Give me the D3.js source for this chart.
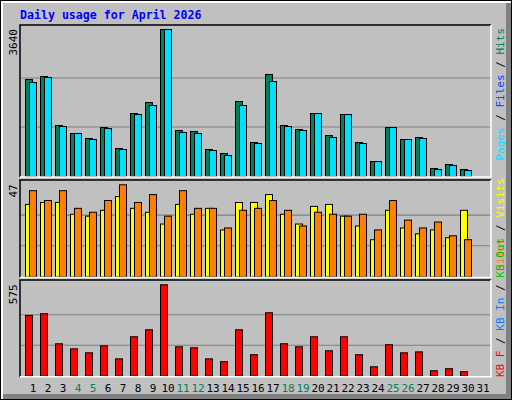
<!DOCTYPE html>
<html><head><meta charset="utf-8">
<script src="https://cdn.jsdelivr.net/npm/d3@7"></script>
<style>body{margin:0;background:#fff}</style>
</head><body>
<script>
// daily values
var days = d3.range(1, 32);
var weekend = [4, 5, 11, 12, 18, 19, 25, 26];
var hits = [2402,2476,1263,1065,941,1213,693,1560,1832,3640,1139,1114,669,570,1857,842,2526,1263,1164,1560,1015,1535,842,371,1213,916,966,198,297,173];
var files = [2328,2451,1238,1065,916,1188,669,1535,1758,3640,1089,1065,644,520,1758,817,2352,1238,1139,1560,966,1535,817,371,1213,916,941,173,272,149];
var visits = [37,38,38,32,31,34,41,35,33,27,37,32,35,24,38,38,42,32,27,36,37,31,26,19,34,25,22,24,20,34];
var sites = [44,39,44,35,33,39,47,38,42,31,44,35,35,25,34,35,39,34,26,33,32,31,32,24,39,29,25,28,21,19];
var kbytes = [382,393,204,172,147,191,109,248,292,575,185,179,109,91,292,135,399,204,185,248,160,248,135,59,198,147,153,34,47,28];

var W = 512, H = 400, x0 = 20, x1 = 491;
var svg = d3.select("body").append("svg").attr("width", W).attr("height", H)
    .style("font-family", "DejaVu Sans Mono");

//frame
svg.append("rect").attr("x", 0).attr("y", 0).attr("width", W).attr("height", H).attr("fill", "#000");
svg.append("rect").attr("x", 1).attr("y", 1).attr("width", W - 2).attr("height", H - 2).attr("fill", "#fff");
svg.append("rect").attr("x", 3).attr("y", 3).attr("width", W - 4).attr("height", H - 4).attr("fill", "#808080");
svg.append("rect").attr("x", 3).attr("y", 3).attr("width", W - 9).attr("height", H - 9).attr("fill", "#c0c0c0");

svg.append("text").attr("x", 20).attr("y", 19).text("Daily usage for April 2026")
    .attr("fill", "#0000ff").attr("font-weight", "bold").attr("font-size", 11.6);

var x = d3.scaleLinear().domain([1, 32]).range([x0, x0 + 15 * 31]);

function panel(top, bottom, maxTop, max, series, colors, label){
    var y = d3.scaleLinear().domain([0, max]).range([bottom, maxTop]);
    var g = svg.append("g");
    [1/3, 2/3].forEach(function(f){
        g.append("line").attr("x1", x0).attr("x2", x1)
            .attr("y1", y(max * f)).attr("y2", y(max * f)).attr("stroke", "#808080").attr("stroke-width", 1.2);
    });
    series.forEach(function(s, k){
        var off = series.length == 1 ? 5 : 5 + 4 * k;
        g.selectAll(".b" + k).data(s).enter().append("rect")
            .attr("x", function(d, i){ return x(i + 1) + off + 0.5; })
            .attr("y", function(d){ return y(d) + 0.5; })
            .attr("width", 7)
            .attr("height", function(d){ return bottom - y(d); })
            .attr("fill", colors[k]).attr("stroke", "#000");
    });
    // panel border
    g.append("path").attr("d", "M" + x0 + "," + (bottom + 1) + "V" + top + "H" + x1)
        .attr("fill", "none").attr("stroke", "#000").attr("stroke-width", 1.5);
    g.append("path").attr("d", "M" + x0 + "," + (bottom + 1) + "H" + x1 + "V" + top)
        .attr("fill", "none").attr("stroke", "#fff").attr("stroke-width", 1.5);
    g.append("text").attr("transform", "translate(17," + maxTop + ") rotate(-90)")
        .attr("text-anchor", "end").attr("font-size", 11).text(label);
}

panel(25, 176, 29, 3640, [hits, files], ["#00805c", "#00e0ff"], "3640");
panel(180, 276.5, 184.3, 47, [visits, sites], ["#ffff00", "#ff8000"], "47");
panel(280, 375.7, 284.3, 575, [kbytes], ["#ff0000"], "575");

//day labels
svg.selectAll(".day").data(days).enter().append("text")
    .attr("x", function(d){ return x(d) + 13; })
    .attr("y", 392).attr("text-anchor", "middle").attr("font-size", 11)
    .attr("fill", function(d){ return weekend.indexOf(d) >= 0 ? "#00805c" : "#000"; })
    .text(function(d){ return d; });

//side legends
function legend(yPos, anchor, parts){
    var t = svg.append("text").attr("transform", "translate(504," + yPos + ") rotate(-90)")
        .attr("text-anchor", anchor).attr("font-size", 11);
    parts.forEach(function(p){ t.append("tspan").attr("fill", p[1]).text(p[0]); });
}
legend(28, "end", [["Pages", "#00e0ff"], [" / ", "#000"], ["Files", "#0040ff"], [" / ", "#000"], ["Hits", "#00805c"]]);
legend(178, "end", [["Sites", "#ff8000"], [" / ", "#000"], ["Visits", "#ffff00"]]);
legend(377, "start", [["KB F", "#ff0000"], [" / ", "#000"], ["KB In", "#0080ff"], [" / ", "#000"], ["KB Out", "#00c000"]]);
</script>
</body></html>
